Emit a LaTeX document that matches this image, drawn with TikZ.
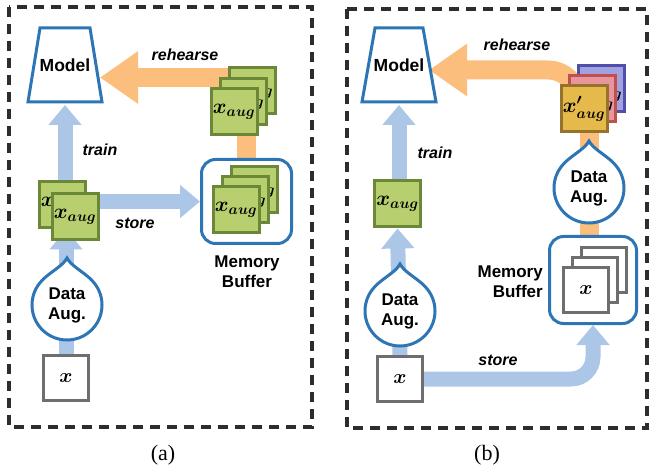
\documentclass[tikz,border=0pt]{standalone}
\usepackage{fix-cm}
\usepackage{fontspec}
\usepackage{amsmath}
\setsansfont{Liberation Sans}
\newfontfamily\capfont{Liberation Serif}
\usetikzlibrary{arrows.meta}

\definecolor{augblue}{RGB}{46,117,182}
\definecolor{flowblue}{RGB}{172,198,232}
\definecolor{floworange}{RGB}{251,190,124}
\definecolor{greenfill}{RGB}{183,207,110}
\definecolor{greenline}{RGB}{107,135,56}
\definecolor{boxgray}{RGB}{110,110,110}
\definecolor{goldfill}{RGB}{230,185,75}
\definecolor{goldline}{RGB}{150,115,45}
\definecolor{redfill}{RGB}{232,150,158}
\definecolor{redline}{RGB}{192,80,77}
\definecolor{purplefill}{RGB}{162,162,225}
\definecolor{purpleline}{RGB}{80,80,170}
\definecolor{framegray}{RGB}{45,45,45}

\pgfdeclarelayer{background}
\pgfsetlayers{background,main}

\tikzset{
  panelframe/.style={draw=framegray, line width=4pt, dash pattern=on 10pt off 7pt},
  model/.style={minimum width=74pt, minimum height=74pt, inner sep=0pt, outer sep=0pt, font=\fontsize{17.5}{20}\selectfont\sffamily\bfseries},
  modelline/.style={draw=augblue, line width=3pt},
  augbox/.style={draw=greenline, fill=greenfill, line width=3pt, minimum size=46pt, inner sep=0pt, font=\boldmath\fontsize{21}{23}\selectfont},
  xbox/.style={draw=boxgray, fill=white, line width=3pt, minimum size=45pt, inner sep=0pt, font=\boldmath\fontsize{20}{22}\selectfont},
  buffer/.style={draw=augblue, fill=white, line width=3pt, rounded corners=14pt},
  dropline/.style={draw=augblue, fill=white, line width=3pt},
  dropnode/.style={align=center, inner sep=0pt, font=\fontsize{17}{20}\selectfont\sffamily\bfseries},
  flowlabel/.style={font=\fontsize{16}{18}\selectfont\sffamily\bfseries\itshape},
  bluearrow/.style={draw=flowblue, line width=15pt, -{Triangle[width=32pt,length=20pt]}},
  orangearrow/.style={draw=floworange, line width=19pt, -{Triangle[width=50pt,length=38pt]}},
  orangeline/.style={draw=floworange, line width=19pt},
  subcaption/.style={font=\capfont\fontsize{22}{24}\selectfont},
}

\begin{document}
\begin{tikzpicture}[x=1pt,y=1pt]
\useasboundingbox (0,0) rectangle (650,-470);

\draw[panelframe] (9,-7) rectangle (312,-427);
\draw[panelframe] (347,-9) rectangle (647,-428);

\node[model] (modela) at (65,-65) {Model};
\draw[modelline] (modela.south west) -- (modela.south east) -- ([xshift=-12pt]modela.north east) -- ([xshift=12pt]modela.north west) -- cycle;

\node[augbox] (xa1) at (62,-205) {$x_{aug}$};
\node[augbox] (xa2) at (75,-217) {$x_{aug}$};

\node[buffer, minimum width=90pt, minimum height=84pt] (bufa) at (246.5,-201.5) {};
\foreach \i/\dx/\dy in {3/18/20,2/9/10,1/0/0}
  \node[augbox] (ba\i) at (236+\dx,-210+\dy) {$x_{aug}$};
\node[dropnode] (mema) at (247,-272) {Memory\\Buffer};

\foreach \i/\dx/\dy in {3/18/21,2/9/10,1/0/0}
  \node[augbox] (ra\i) at (234+\dx,-112+\dy) {$x_{aug}$};

\coordinate (auga) at (67,-305);
\draw[dropline, shift={(auga)}] (0,47) .. controls (-4,39) and (-17,33) .. (-24.75,24.75) arc[start angle=135, end angle=405, radius=35] .. controls (17,33) and (4,39) .. cycle;
\node[dropnode] (augta) at (auga) {Data\\Aug.};

\node[xbox] (xboxa) at (66,-378) {$x$};

\node[flowlabel] (reha) at (185,-55) {rehearse};
\node[flowlabel] (traina) at (100,-150) {train};
\node[flowlabel] (storea) at (135,-223) {store};

\node[model] (modelb) at (399,-65) {Model};
\draw[modelline] (modelb.south west) -- (modelb.south east) -- ([xshift=-13pt]modelb.north east) -- ([xshift=13pt]modelb.north west) -- cycle;

\node[augbox] (xb) at (397.5,-204) {$x_{aug}$};

\coordinate (augb) at (400,-311);
\draw[dropline, shift={(augb)}] (0,47) .. controls (-4,39) and (-17,33) .. (-24.75,24.75) arc[start angle=135, end angle=405, radius=35] .. controls (17,33) and (4,39) .. cycle;
\node[dropnode] (augtb) at (augb) {Data\\Aug.};

\node[xbox] (xboxb) at (400,-379) {$x$};

\node[buffer, minimum width=87pt, minimum height=87pt] (bufb) at (593,-280) {};
\foreach \i/\dx/\dy in {3/18/20,2/9/10}
  \node[xbox] (bb\i) at (586+\dx,-290+\dy) {};
\node[xbox] (bb1) at (586,-290) {$x$};
\node[dropnode, anchor=east, align=right] (memb) at (543,-282) {Memory\\Buffer};

\coordinate (augc) at (589,-188);
\draw[dropline, shift={(augc)}] (0,47) .. controls (-4,39) and (-17,33) .. (-24.75,24.75) arc[start angle=135, end angle=405, radius=35] .. controls (17,33) and (4,39) .. cycle;
\node[dropnode] (augtc) at (augc) {Data\\Aug.};

\node[augbox, draw=purpleline, fill=purplefill] (rb3) at (601,-88.5) {$x'_{aug}$};
\node[augbox, draw=redline, fill=redfill] (rb2) at (592.5,-98.5) {$x'_{aug}$};
\node[augbox, draw=goldline, fill=goldfill] (rb1) at (584,-109) {$x'_{aug}$};

\node[flowlabel] (rehb) at (517,-45) {rehearse};
\node[flowlabel] (trainb) at (435,-153) {train};
\node[flowlabel] (storeb) at (498,-360) {store};

\node[subcaption] (capa) at (163,-455) {(a)};
\node[subcaption] (capb) at (487,-455) {(b)};

\begin{pgfonlayer}{background}
\draw[bluearrow, shorten >=3pt] (modela.south |- xa1.north) -- (modela.south);
\draw[bluearrow] (xa2.east |- bufa.west) -- (bufa.west);
\draw[bluearrow, shorten >=-12pt] (xboxa.north) -- (xboxa.north |- xa2.south);
\draw[orangeline] (bufa.north) -- (bufa.north |- ra1.center);
\draw[orangearrow, shorten >=-2pt] (ra2.north) -- (ra2.north -| modela.east);

\draw[bluearrow, shorten >=3pt] (modelb.south |- xb.north) -- (modelb.south);
\draw[bluearrow] (xboxb.north) -- (xb.south);
\draw[bluearrow, rounded corners=22pt] (xboxb.east) -| (bufb.south);
\draw[orangeline] (bufb.north -| augc) -- (rb1.south -| augc);
\draw[orangearrow, rounded corners=30pt, shorten >=-7pt] ([xshift=-6pt]rb1.center) |- ([yshift=-5pt]modelb.east);
\end{pgfonlayer}
\end{tikzpicture}
\end{document}
